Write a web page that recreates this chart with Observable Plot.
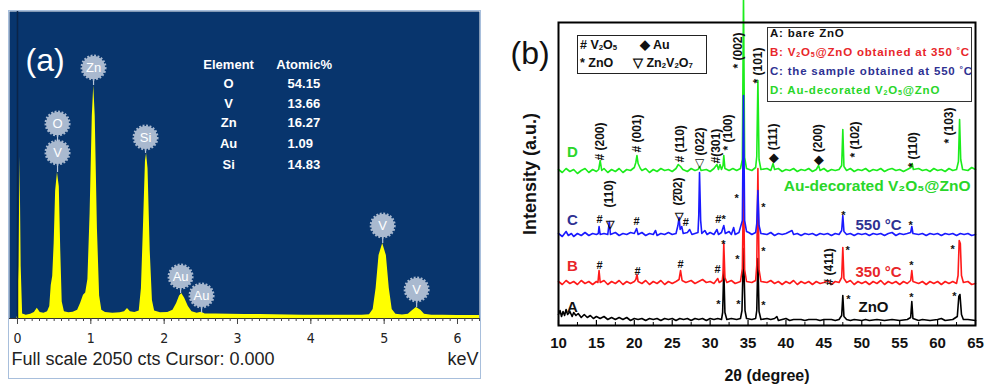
<!DOCTYPE html>
<html><head><meta charset="utf-8">
<script src="https://cdn.jsdelivr.net/npm/d3@7"></script>
<script src="https://cdn.jsdelivr.net/npm/@observablehq/plot@0.6"></script>
<style>
body{margin:0;background:#fff;}
#wrap{position:relative;width:985px;height:388px;overflow:hidden;font-family:"Liberation Sans",Arial,sans-serif;}
#pa{position:absolute;left:0;top:0;}
#pb{position:absolute;left:500px;top:0;}
.box{position:absolute;background:#fff;}
.box span{position:absolute;white-space:nowrap;}
.box sub{font-size:0.62em;vertical-align:-0.12em;line-height:0;}
.box sup{font-size:0.75em;vertical-align:0.35em;line-height:0;}
</style></head><body>
<div id="wrap">
  <div id="pa"></div>
  <div id="pb"></div>
  <div style="position:absolute;left:8px;top:10px;width:471px;height:367px;border:1px solid #a8bfdc;pointer-events:none"></div>
  <div class="box" style="left:577px;top:35px;width:128px;height:37px;border:1.5px solid #222;font:bold 12.5px 'Liberation Sans',Arial,sans-serif;line-height:15px;color:#111">
    <span style="left:2px;top:2px"># V<sub>2</sub>O<sub>5</sub></span>
    <span style="left:62px;top:2px">◆ Au</span>
    <span style="left:2px;top:20px">* ZnO</span>
    <span style="left:55px;top:20px">▽ Zn<sub>2</sub>V<sub>2</sub>O<sub>7</sub></span>
  </div>
  <div class="box" style="left:767px;top:27px;width:203px;height:73px;border:1.5px solid #333;font:bold 11.5px 'Liberation Sans',Arial,sans-serif;letter-spacing:0.8px;line-height:13px">
    <span style="left:2px;top:-1px;color:#111">A: bare ZnO</span>
    <span style="left:2px;top:18px;color:#e8262a">B: V<sub>2</sub>O<sub>5</sub>@ZnO obtained at 350 <sup>°</sup>C</span>
    <span style="left:2px;top:37px;color:#2e3192">C: the sample obtained at 550 <sup>°</sup>C</span>
    <span style="left:2px;top:56px;color:#29d629">D: Au-decorated V<sub>2</sub>O<sub>5</sub>@ZnO</span>
  </div>
</div>
<script>
// ---------- Panel (a): EDS spectrum ----------
const edsKeV = [-0.109,-0.01,0.0,0.02,0.035,0.05,0.07,0.12,0.18,0.23,0.27,0.31,0.36,0.41,0.44,0.46,0.48,0.5,0.52,0.545,0.57,0.59,0.61,0.64,0.7,0.76,0.82,0.86,0.9,0.93,0.96,0.99,1.02,1.04,1.06,1.09,1.12,1.15,1.2,1.3,1.4,1.46,1.5,1.54,1.6,1.66,1.69,1.72,1.745,1.76,1.78,1.81,1.84,1.87,1.95,2.05,2.12,2.17,2.21,2.24,2.28,2.33,2.38,2.45,2.51,2.56,2.7,2.9,3.1,3.3,3.5,3.7,3.9,4.1,4.3,4.5,4.7,4.8,4.85,4.89,4.93,4.98,5.03,5.07,5.11,5.16,5.25,5.33,5.38,5.44,5.5,5.55,5.65,5.8,6.0,6.2,6.3];
const edsCounts = [0,0,15,350,1080,350,30,22,28,40,68,40,35,45,80,220,280,500,850,975,880,450,110,45,38,42,55,100,155,170,260,700,1350,1556,1350,600,150,55,40,35,38,45,67,45,40,50,200,650,1050,1102,1000,450,120,50,38,40,55,100,150,167,135,80,45,35,42,30,30,28,27,26,25,24,22,22,21,21,22,25,60,200,420,500,420,200,60,28,24,28,50,73,55,28,22,21,20,20,20];
const edsMajorTicks = [0,1,2,3,4,5,6];
const edsMinorTicks = d3.range(0, 6.31, 0.1);
const badgeLabels = ["Zn","O","V","Si","Au","Au","V","V"];
const badgeKeV    = [1.037,0.546,0.546,1.746,2.224,2.510,4.980,5.443];
const badgeCounts = [1676,1302,1109,1209,280,154,621,194];
const badgePeak   = [1556,1109,975,1102,167,35,500,73];
const tableElements = ["O","V","Zn","Au","Si"];
const tableAtomic = ["54.15","13.66","16.27","1.09","14.83"];
const tableRowCounts = [1569,1436,1309,1169,1028];

const eds = edsKeV.map((k,i)=>({k, c: edsCounts[i]}));
const badges = badgeLabels.map((label,i)=>({label, k: badgeKeV[i], y: badgeCounts[i], peak: badgePeak[i]}));
const tableRows = tableElements.map((e,i)=>({e, v: tableAtomic[i], c: tableRowCounts[i]}));
const narrow = "'Liberation Sans Narrow','DejaVu Sans Condensed','Liberation Sans',sans-serif";

const plotA = Plot.plot({
  width: 495, height: 388,
  marginLeft: 9, marginRight: 16, marginTop: 11, marginBottom: 70,
  x: {domain: [-0.109, 6.30]},
  y: {domain: [0, 2050], axis: null},
  style: {background: "transparent", fontFamily: "'Liberation Sans',Arial,sans-serif"},
  marks: [
    Plot.frame({fill: "#08356d", stroke: "none"}),
    Plot.areaY(eds, {x: "k", y: "c", fill: "#ffff00"}),
    Plot.ruleX([0], {stroke: "#0b2448", strokeWidth: 1.5}),
    Plot.ruleX(badges, {x: "k", y1: "y", y2: "peak", stroke: "#b8c7da", strokeWidth: 1.2}),
    Plot.dot(badges, {x: "k", y: "y", r: 11.5, fill: "#a9b9cf", stroke: "#a9b9cf", strokeWidth: 3, strokeDasharray: "1.8 1.6"}),
    Plot.text(badges, {x: "k", y: "y", text: "label", fill: "white", fontSize: 13}),
    Plot.text(["(a)"], {frameAnchor: "top-left", dx: 16, dy: 37, fontSize: 32, fill: "white", textAnchor: "start"}),
    Plot.text(["Element"], {x: 2.879, y: 1696, fill: "white", fontSize: 13, fontWeight: "bold"}),
    Plot.text(["Atomic%"], {x: 3.909, y: 1696, fill: "white", fontSize: 13, fontWeight: "bold"}),
    Plot.text(tableRows, {x: 2.879, y: "c", text: "e", fill: "white", fontSize: 13, fontWeight: "bold"}),
    Plot.text(tableRows, {x: 3.683, y: "c", text: "v", fill: "white", fontSize: 13, fontWeight: "bold", textAnchor: "start"}),
    Plot.ruleY([0], {stroke: "#333"}),
    Plot.axisX({ticks: edsMinorTicks, tickSize: 3, fill: "none", stroke: "#444", label: null}),
    Plot.axisX({ticks: edsMajorTicks, tickFormat: "d", tickSize: 6, tickPadding: 9, fontSize: 14, fill: "#222", stroke: "#444", label: null, fontFamily: narrow}),
    Plot.text(["Full scale 2050 cts Cursor: 0.000"], {frameAnchor: "bottom-left", dx: 2, dy: 46, textAnchor: "start", fontSize: 18, fill: "#222"}),
    Plot.text(["keV"], {frameAnchor: "bottom-right", dx: -1, dy: 46, textAnchor: "end", fontSize: 18, fill: "#222"})
  ]
});
document.getElementById("pa").appendChild(plotA);

// ---------- Panel (b): XRD patterns ----------
const xrdTicks = [10,15,20,25,30,35,40,45,50,55,60,65];
const xrdMinorTicks = [12.5,17.5,22.5,27.5,32.5,37.5,42.5,47.5,52.5,57.5,62.5];
const traceOffsets = {A: 5, B: 42, C: 90, D: 154};
const xrdA = [[10,6],[10.2,10],[10.4,4],[10.6,9],[10.8,5],[11,11],[11.2,6],[11.5,9],[11.8,4],[12,8],[12.3,5],[12.6,7],[13,3],[13.4,6],[13.8,3],[14.2,5],[14.6,2],[15,4],[15.5,2],[16,4],[16.5,1],[17,3],[17.5,1],[18,3],[18.5,1],[19,3],[19.5,0],[20,2],[20.5,1],[21,2],[21.5,0],[22,2],[22.5,1],[23,2],[23.5,0],[24,2],[24.5,1],[25,2],[25.5,0],[26,2],[26.5,1],[27,2],[27.5,0],[28,2],[28.5,1],[29,2],[29.5,0],[30,2],[30.5,1],[31,2],[31.5,1],[31.65,8],[31.8,52],[31.95,8],[32.2,1],[32.8,2],[33.5,1],[34,2],[34.2,10],[34.4,72],[34.6,10],[34.8,2],[35.5,1],[36,2],[36.15,10],[36.3,62],[36.45,9],[36.7,1],[37.5,2],[38,1],[38.5,2],[38.8,4],[39,0],[39.5,1],[40,2],[40.5,0],[41,1],[42,1],[42.5,0],[43,1],[44,1],[44.5,0],[45,1],[46,1],[46.5,0],[47,1],[47.35,5],[47.5,25],[47.65,4],[48,1],[48.5,0],[49,1],[50,0],[50.5,1],[51,0],[52,1],[53,0],[54,1],[55,0],[56,1],[56.45,3],[56.6,19],[56.75,2],[57.5,0],[58,1],[59,0],[60,1],[60.5,2],[61,0],[62,1],[62.6,4],[62.8,24],[62.95,26],[63.15,6],[63.4,1],[64,1],[65,0]];
const xrdB = [[10,2],[10.5,-1],[11,3],[11.5,0],[12,2],[12.5,-1],[13,3],[13.5,0],[14,2],[14.5,-1],[15,2],[15.2,1],[15.35,13],[15.5,1],[16,3],[16.5,-1],[17,2],[17.5,0],[18,3],[18.5,-1],[19,2],[19.5,0],[20,2],[20.2,4],[20.35,9],[20.5,2],[21,0],[21.5,3],[22,-1],[22.5,2],[23,0],[23.5,3],[24,-1],[24.5,2],[25,0],[25.5,2],[25.9,4],[26.1,13],[26.3,3],[26.8,1],[27.5,3],[28,0],[28.5,2],[29,4],[29.5,1],[30,2],[30.5,0],[31,5],[31.2,1],[31.6,3],[31.7,10],[31.8,40],[31.95,6],[32.2,1],[32.8,3],[33.3,0],[34,2],[34.25,15],[34.4,100],[34.55,14],[34.8,2],[35.5,1],[36,3],[36.15,18],[36.3,115],[36.45,14],[36.7,2],[37.5,1],[38,3],[38.5,0],[39,2],[39.5,-1],[40,2],[40.5,0],[41,3],[41.5,-1],[42,2],[42.5,0],[43,2],[43.5,-1],[44,2],[44.5,0],[45,1],[45.5,3],[46,-1],[46.5,2],[47,1],[47.35,6],[47.5,36],[47.65,5],[48,1],[48.5,3],[49,-1],[49.5,2],[50,0],[50.5,2],[51,-1],[51.5,2],[52,0],[52.5,3],[53,-1],[53.5,2],[54,0],[54.5,2],[55,-1],[55.5,2],[56,0],[56.45,3],[56.6,13],[56.75,2],[57.5,0],[58,2],[58.5,-1],[59,2],[59.5,0],[60,2],[60.5,-1],[61,2],[61.5,0],[62,2],[62.5,0],[62.7,8],[62.85,43],[63.0,40],[63.15,8],[63.4,1],[64,2],[64.5,-1],[65,0]];
const xrdC = [[10,2],[10.5,-1],[11,4],[11.3,0],[11.7,2],[12,-1],[12.5,2],[13,0],[13.5,3],[14,0],[14.5,2],[15,1],[15.25,2],[15.35,9],[15.5,1],[16,2],[16.5,1],[16.7,14],[16.85,1],[17.5,3],[18,0],[18.5,2],[19,1],[19.5,3],[20,2],[20.3,7],[20.5,1],[21,3],[21.5,0],[22,2],[22.5,1],[22.8,5],[23,0],[23.5,2],[24,1],[24.5,3],[25,1],[25.5,2],[25.75,10],[25.9,18],[26.05,6],[26.25,9],[26.45,2],[27,3],[27.3,6],[27.6,1],[28,2],[28.4,3],[28.5,20],[28.6,63],[28.75,15],[28.9,2],[29.3,5],[29.6,1],[30,3],[30.5,1],[30.9,6],[31.1,1],[31.5,3],[31.8,10],[32,2],[32.5,4],[32.8,1],[33.1,8],[33.3,1],[33.8,3],[34.25,15],[34.4,140],[34.55,15],[34.8,4],[35.1,3],[35.5,1],[36.0,3],[36.15,12],[36.3,45],[36.45,10],[36.7,2],[37.5,1],[38,3],[38.5,0],[39,2],[39.5,1],[40,2],[40.8,5],[41,1],[41.5,2],[42,0],[42.5,2],[43,1],[43.5,2],[44,0],[44.5,2],[45,1],[45.5,2],[46,0],[46.5,2],[47,1],[47.35,5],[47.5,20],[47.65,4],[48,1],[48.5,2],[49,0],[49.5,2],[50,1],[50.5,2],[51,0],[51.5,2],[52,1],[52.5,2],[53,0],[53.5,2],[54,3],[54.5,0],[55,2],[55.5,1],[56,2],[56.45,3],[56.6,9],[56.75,2],[57.5,1],[58,2],[58.5,0],[59,2],[59.5,1],[60,2],[60.5,0],[61,2],[61.5,1],[62,2],[62.5,0],[63,2],[63.5,1],[64,2],[64.5,0],[65,1]];
const xrdD = [[10,2],[10.5,-1],[11,3],[11.5,0],[12,2],[12.5,-2],[13,1],[13.5,3],[14,-1],[14.5,2],[15,0],[15.3,2],[15.5,11],[15.7,1],[16,3],[16.5,-1],[17,2],[17.5,0],[18,3],[18.5,-1],[19,2],[19.5,1],[20,4],[20.2,9],[20.35,16],[20.5,8],[20.8,3],[21,1],[21.5,3],[22,-1],[22.5,2],[23,0],[23.5,3],[24,1],[24.5,2],[25,0],[25.5,3],[25.8,7],[26.1,5],[26.4,2],[27,0],[27.5,3],[28,1],[28.4,2],[28.6,5],[28.8,1],[29.5,2],[30,0],[30.5,3],[30.9,7],[31.1,2],[31.3,7],[31.5,2],[31.7,6],[31.8,16],[31.95,3],[32.5,1],[33,3],[33.5,1],[34,3],[34.25,12],[34.4,175],[34.55,14],[34.8,3],[35.5,1],[36,4],[36.15,15],[36.3,91],[36.45,12],[36.7,2],[37.5,3],[38,1],[38.3,8],[38.5,2],[39,3],[39.5,0],[40,2],[40.5,1],[41,3],[41.5,0],[42,2],[42.5,1],[43,3],[43.5,0],[44,2],[44.3,6],[44.5,1],[45,3],[45.5,0],[46,2],[46.5,1],[47,2],[47.35,6],[47.5,42],[47.65,5],[48,1],[48.5,3],[49,0],[49.5,2],[50,1],[50.5,3],[51,0],[51.5,2],[52,1],[52.5,3],[53,0],[53.5,2],[54,3],[54.5,1],[55,2],[55.5,0],[56,2],[56.5,4],[56.65,8],[56.8,2],[57.5,3],[58,1],[58.5,2],[59,0],[59.5,3],[60,1],[60.5,2],[61,0],[61.5,3],[62,1],[62.5,2],[62.75,10],[62.9,52],[63.05,12],[63.3,2],[64,1],[64.5,4],[65,2]];

// peak annotations: [text, 2theta, position]
const rotLabelsD = [["# (200)",15.54,165],["# (001)",20.42,173],["# (110)",26.09,163],["(022)",28.73,170],["#(301)",30.84,162],["* (100)",32.42,175],["* (002)",33.74,257],["* (101)",36.38,242],["◆ (111)",38.36,163],["◆ (200)",44.29,161],["* (102)",49.17,168],["* (110)",56.82,158],["* (103)",61.57,182]];
const rotLabelsC = [["(110)",16.73,118],["(2\u030402)",25.83,120]];
const rotLabelsB = [["# (411)",45.74,40]];
const symD = [["▽",28.60,162]];
const symC = [["#",15.41,108],["▽",16.73,103],["#",20.29,106],["▽",25.83,111],["#",26.8,105],["#*",31.37,108],["*",33.48,129],["*",37.04,120],["*",47.59,112],["*",56.43,102]];
const symB = [["#",15.41,62],["#",20.42,56],["#",26.09,63],["#",30.97,58],["*",31.76,83],["*",33.61,68],["*",37.04,76],["*",48.12,77],["*",56.56,62],["*",61.97,78]];
const symA = [["*",31.10,23],["*",33.74,23],["*",37.04,22],["*",48.25,28],["*",56.56,30],["*",62.23,31]];
const traceLetters = [["A",11.85,18],["B",11.85,59],["C",11.85,105],["D",11.85,173]];
const sideLabels = [["ZnO",51.55,18],["350 °C",52.21,53],["550 °C",52.21,100]];

const col = {A: "#000000", B: "#ff1a1a", C: "#1a1aff", D: "#1cec1c"};
const txt = {A: "#111111", B: "#e8262a", C: "#2e3192", D: "#29d629"};
const toPts = (arr, key) => arr.map(([t, i]) => ({t, v: i + traceOffsets[key]}));
const lab = arr => arr.map(([s, t, v]) => ({s, t, v}));
const bold = {fontWeight: "bold"};
const lw = 1.6;

const plotB = Plot.plot({
  width: 485, height: 388,
  marginLeft: 58, marginRight: 10, marginTop: 22, marginBottom: 63,
  x: {domain: [10, 65]},
  y: {domain: [0, 303], axis: null},
  style: {background: "transparent", fontFamily: "'Liberation Sans',Arial,sans-serif"},
  marks: [
    Plot.line(toPts(xrdA, "A"), {x: "t", y: "v", stroke: col.A, strokeWidth: lw}),
    Plot.line(toPts(xrdB, "B"), {x: "t", y: "v", stroke: col.B, strokeWidth: lw}),
    Plot.line(toPts(xrdD, "D"), {x: "t", y: "v", stroke: col.D, strokeWidth: lw}),
    Plot.line(toPts(xrdC, "C"), {x: "t", y: "v", stroke: col.C, strokeWidth: lw}),
    Plot.frame({stroke: "#000", strokeWidth: 2}),
    Plot.axisX({ticks: xrdTicks, tickSize: -5, fill: "none", stroke: "#000", strokeWidth: 1.2, label: null}),
    Plot.axisX({ticks: xrdMinorTicks, tickSize: -3, fill: "none", stroke: "#000", strokeWidth: 1, label: null}),
    Plot.axisX({ticks: xrdTicks, tickSize: 0, tickPadding: 12, fontSize: 15, fontWeight: "bold", fill: "#111", label: null}),
    Plot.text(["2θ (degree)"], {frameAnchor: "bottom", dy: 55, fontSize: 16, ...bold, fill: "#111"}),
    Plot.text(["Intensity (a.u.)"], {frameAnchor: "left", dx: -28, rotate: -90, textAnchor: "middle", fontSize: 18, ...bold, fill: "#111"}),
    Plot.text(["(b)"], {frameAnchor: "top-left", dx: -48, dy: 19, fontSize: 32, textAnchor: "start", fill: "#111"}),
    Plot.text(lab(rotLabelsD), {x: "t", y: "v", text: "s", rotate: -90, textAnchor: "start", fontSize: 12, ...bold, fill: "#111"}),
    Plot.text(lab(rotLabelsC), {x: "t", y: "v", text: "s", rotate: -90, textAnchor: "start", fontSize: 12, ...bold, fill: "#111"}),
    Plot.text(lab(rotLabelsB), {x: "t", y: "v", text: "s", rotate: -90, textAnchor: "start", fontSize: 12, ...bold, fill: "#111"}),
    Plot.text(lab(symD), {x: "t", y: "v", text: "s", fontSize: 12, fill: "#111"}),
    Plot.text(lab(symC), {x: "t", y: "v", text: "s", fontSize: 11, ...bold, fill: "#111", dy: 2}),
    Plot.text(lab(symB), {x: "t", y: "v", text: "s", fontSize: 11, ...bold, fill: "#111", dy: 2}),
    Plot.text(lab(symA), {x: "t", y: "v", text: "s", fontSize: 11, ...bold, fill: "#111", dy: 2}),
    Plot.text(lab(traceLetters).filter(d => d.s === "A"), {x: "t", y: "v", text: "s", fontSize: 15, ...bold, fill: txt.A}),
    Plot.text(lab(traceLetters).filter(d => d.s === "B"), {x: "t", y: "v", text: "s", fontSize: 15, ...bold, fill: txt.B}),
    Plot.text(lab(traceLetters).filter(d => d.s === "C"), {x: "t", y: "v", text: "s", fontSize: 15, ...bold, fill: txt.C}),
    Plot.text(lab(traceLetters).filter(d => d.s === "D"), {x: "t", y: "v", text: "s", fontSize: 15, ...bold, fill: txt.D}),
    Plot.text(lab(sideLabels).slice(0,1), {x: "t", y: "v", text: "s", fontSize: 15, ...bold, fill: txt.A}),
    Plot.text(lab(sideLabels).slice(1,2), {x: "t", y: "v", text: "s", fontSize: 15, ...bold, fill: txt.B}),
    Plot.text(lab(sideLabels).slice(2,3), {x: "t", y: "v", text: "s", fontSize: 15, ...bold, fill: txt.C}),
    Plot.text(["Au-decorated V₂O₅@ZnO"], {x: 64.34, y: 139, textAnchor: "end", fontSize: 15.5, ...bold, fill: txt.D})
  ]
});
document.getElementById("pb").appendChild(plotB);
</script>
</body></html>
